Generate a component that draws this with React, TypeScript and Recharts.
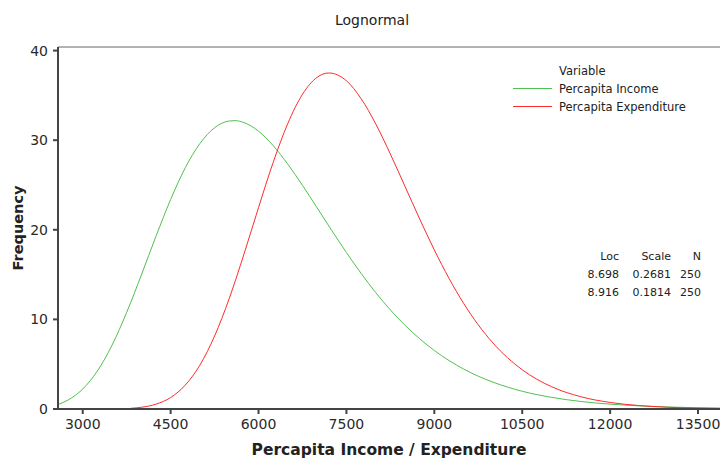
import { LineChart, Line, XAxis, YAxis, ReferenceLine, Label } from "recharts";

const FONT = '"DejaVu Sans", Verdana, sans-serif';

// fitted lognormal curves (frequency per x)
const incomeX = [2578, 2750, 3000, 3250, 3500, 3750, 4000, 4250, 4500, 4750, 5000, 5250, 5500, 5600, 5750, 6000, 6250, 6500, 6750, 7000, 7250, 7500, 7750, 8000, 8250, 8500, 8750, 9000, 9250, 9500, 9750, 10000, 10500, 11000, 11500, 12000, 12500, 13000, 13500, 13875];
const incomeY = [0.51, 1.0, 2.23, 4.24, 7.12, 10.78, 14.95, 19.28, 23.38, 26.92, 29.63, 31.39, 32.14, 32.18, 31.97, 31.0, 29.39, 27.32, 24.96, 22.45, 19.92, 17.46, 15.14, 12.99, 11.06, 9.34, 7.84, 6.53, 5.41, 4.46, 3.66, 3.0, 1.98, 1.3, 0.84, 0.54, 0.35, 0.22, 0.14, 0.1];

const expenditureX = [3821, 4000, 4250, 4500, 4750, 5000, 5250, 5500, 5750, 6000, 6250, 6500, 6750, 7000, 7200, 7500, 7750, 8000, 8250, 8500, 8750, 9000, 9250, 9500, 9750, 10000, 10500, 11000, 11500, 12000, 12500, 13000, 13500, 13875];
const expenditureY = [0.08, 0.19, 0.54, 1.28, 2.67, 4.9, 8.14, 12.33, 17.25, 22.48, 27.52, 31.87, 35.12, 37.02, 37.5, 36.63, 34.64, 31.82, 28.45, 24.84, 21.21, 17.75, 14.59, 11.79, 9.39, 7.37, 4.38, 2.49, 1.37, 0.73, 0.38, 0.19, 0.09, 0.06];

const xTicks = [3000, 4500, 6000, 7500, 9000, 10500, 12000, 13500];
const yTicks = [0, 10, 20, 30, 40];

const seriesNames = ["Percapita Income", "Percapita Expenditure"];

const statHeader = ["Loc", "Scale", "N"];
const statRows = [
  ["8.698", "0.2681", "250"],
  ["8.916", "0.1814", "250"]
];

const incomeData = incomeX.map((x, i) => ({ x, y: incomeY[i] }));
const expenditureData = expenditureX.map((x, i) => ({ x, y: expenditureY[i] }));

const GREEN = "#50c050";
const RED = "#ff2a2a";
const seriesColors = [GREEN, RED];

export default function App() {
  const colRight = [619, 671, 701];
  const rowY = [256, 274, 292];
  return (
    <div style={{ position: "absolute", left: 0, top: 0, width: 720, height: 458, background: "#fff" }}>
      <LineChart width={720} height={458} margin={{ top: 47, right: 0, bottom: 0, left: 0 }}>
        <XAxis
          dataKey="x"
          type="number"
          domain={[2578, 13875]}
          ticks={xTicks}
          allowDataOverflow
          height={49}
          tickSize={5}
          tickMargin={5}
          stroke="#444"
          strokeWidth={2}
          tick={{ fontSize: 14, fill: "#2a2a2a", fontFamily: FONT }}
        >
          <Label
            value="Percapita Income / Expenditure"
            position="insideBottom"
            offset={3}
            style={{ fontFamily: FONT, fontSize: 15.5, fontWeight: "bold", fill: "#222" }}
          />
        </XAxis>
        <YAxis
          type="number"
          domain={[0, 40.4]}
          ticks={yTicks}
          allowDataOverflow
          width={58}
          tickSize={5}
          tickMargin={5}
          stroke="#444"
          strokeWidth={2}
          tick={{ fontSize: 14, fill: "#2a2a2a", fontFamily: FONT }}
        >
          <Label
            content={(props: any) => {
              const vb = props.viewBox || {};
              const cx = vb.x + 18;
              const cy = vb.y + vb.height / 2;
              return (
                <text
                  x={cx}
                  y={cy}
                  transform={`rotate(-90 ${cx} ${cy})`}
                  textAnchor="middle"
                  dominantBaseline="central"
                  style={{ fontFamily: FONT, fontSize: 14.5, fontWeight: "bold", fill: "#222" }}
                >
                  Frequency
                </text>
              );
            }}
          />
        </YAxis>
        <ReferenceLine y={40.4} stroke="#666" strokeWidth={1} />
        <Line
          data={incomeData}
          dataKey="y"
          name={seriesNames[0]}
          type="monotone"
          stroke={GREEN}
          strokeWidth={1}
          dot={false}
          isAnimationActive={false}
        />
        <Line
          data={expenditureData}
          dataKey="y"
          name={seriesNames[1]}
          type="monotone"
          stroke={RED}
          strokeWidth={1}
          dot={false}
          isAnimationActive={false}
        />
      </LineChart>
      <svg
        width={720}
        height={458}
        style={{ position: "absolute", left: 0, top: 0, pointerEvents: "none" }}
      >
        <text x={372} y={20} textAnchor="middle" dominantBaseline="central" style={{ fontFamily: FONT, fontSize: 14, fill: "#222" }}>
          Lognormal
        </text>
        {/* legend */}
        <text x={559} y={71} dominantBaseline="central" style={{ fontFamily: FONT, fontSize: 11.5, fill: "#222" }}>
          Variable
        </text>
        {seriesNames.map((name, i) => (
          <g key={name}>
            <line x1={513} x2={552} y1={88.5 + i * 18} y2={88.5 + i * 18} stroke={seriesColors[i]} strokeWidth={1} />
            <text x={559} y={89 + i * 18} dominantBaseline="central" style={{ fontFamily: FONT, fontSize: 11.5, fill: "#222" }}>
              {name}
            </text>
          </g>
        ))}
        {[statHeader, ...statRows].map((row, r) =>
          row.map((cell, c) => (
            <text
              key={`${r}-${c}`}
              x={colRight[c]}
              y={rowY[r]}
              textAnchor="end"
              dominantBaseline="central"
              style={{ fontFamily: FONT, fontSize: 11, fill: "#222" }}
            >
              {cell}
            </text>
          ))
        )}
      </svg>
    </div>
  );
}
